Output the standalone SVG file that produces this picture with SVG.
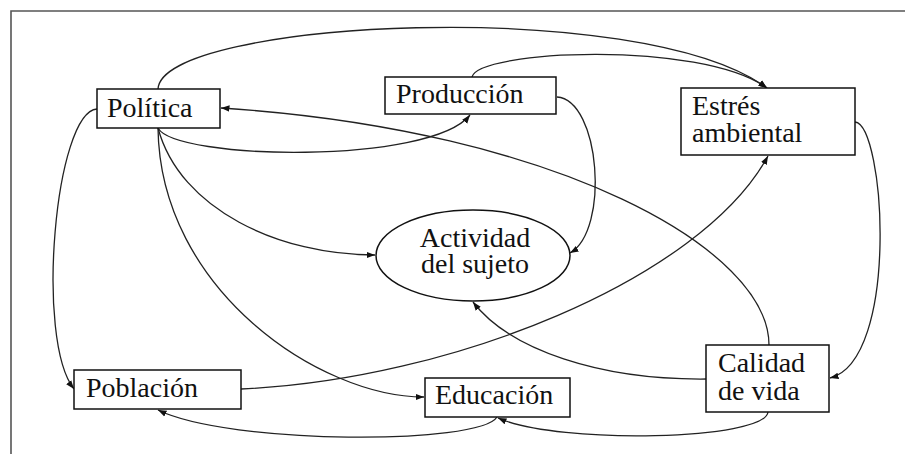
<svg xmlns="http://www.w3.org/2000/svg" width="905" height="454" viewBox="0 0 905 454">
<defs>
<marker id="arr" markerWidth="9" markerHeight="8" refX="8.5" refY="4" orient="auto" markerUnits="userSpaceOnUse">
<path d="M0,0.8 L8.5,4 L0,7.2 Z" fill="#111"/>
</marker>
<style>
.box{fill:#fff;stroke:#111;stroke-width:1.5}
.lbl{font-family:"Liberation Serif","Times New Roman",serif;font-size:28px;fill:#111}
.c{fill:none;stroke:#222;stroke-width:1.3;marker-end:url(#arr)}
.frame{stroke:#555;stroke-width:1.6;fill:none}
</style>
</defs>
<rect width="905" height="454" fill="#fff"/>
<path class="frame" d="M11,454 L11,11 L905,11"/>
<g id="connectors">
<path class="c" d="M158,89 C162,20 640,-5 767,88"/>
<path class="c" d="M472,77 C478,50 700,40 767,88"/>
<path class="c" d="M158,128 C175,160 430,165 470,115"/>
<path class="c" d="M158,128 C180,210 280,255 375,255"/>
<path class="c" d="M158,128 C160,290 320,397 424,397"/>
<path class="c" d="M97,109 C55,112 35,340 74,389"/>
<path class="c" d="M557,97 C600,100 610,230 570,253"/>
<path class="c" d="M769,345 C769,250 560,130 221,108"/>
<path class="c" d="M241,389 C450,380 700,280 768,156"/>
<path class="c" d="M855,122 C885,125 900,360 830,378"/>
<path class="c" d="M706,379 C600,380 510,350 473,302"/>
<path class="c" d="M768,412 C765,440 560,445 498,418"/>
<path class="c" d="M497,417 C480,445 230,445 158,410"/>
</g>
<g id="politica"><rect class="box" x="97" y="89" width="123" height="39"/><text class="lbl" x="107" y="117">Política</text></g>
<g id="produccion"><rect class="box" x="385" y="77" width="171" height="37"/><text class="lbl" x="396" y="103">Producción</text></g>
<g id="estres"><rect class="box" x="681" y="88" width="174" height="67"/><text class="lbl" x="692" y="115">Estrés</text><text class="lbl" x="692" y="142">ambiental</text></g>
<g id="actividad"><ellipse class="box" cx="473" cy="255.5" rx="97" ry="45.5"/><text class="lbl" x="475" y="247" text-anchor="middle">Actividad</text><text class="lbl" x="475" y="273" text-anchor="middle">del sujeto</text></g>
<g id="calidad"><rect class="box" x="706" y="345" width="123" height="67"/><text class="lbl" x="718" y="372">Calidad</text><text class="lbl" x="718" y="400">de vida</text></g>
<g id="poblacion"><rect class="box" x="74" y="370" width="167" height="39"/><text class="lbl" x="86" y="397">Población</text></g>
<g id="educacion"><rect class="box" x="425" y="378" width="145" height="39"/><text class="lbl" x="435" y="404">Educación</text></g>
</svg>
